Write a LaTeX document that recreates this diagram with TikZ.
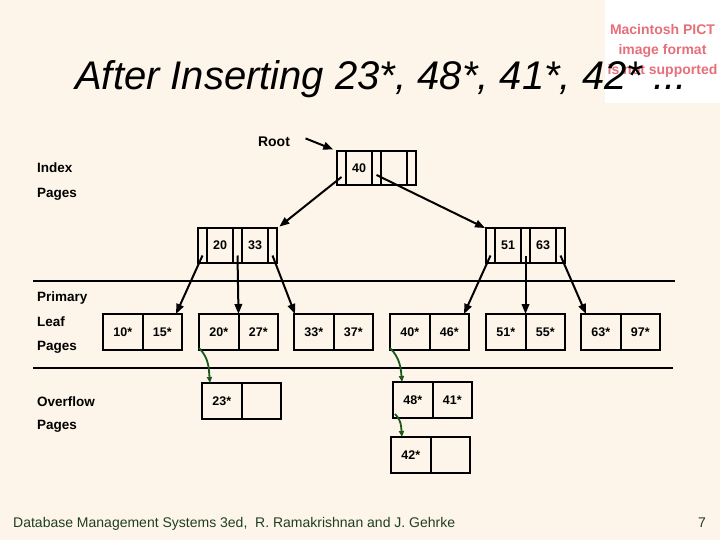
\documentclass[tikz,border=0pt]{standalone}
\usepackage{fontspec}
\setmainfont{Liberation Sans}
\usetikzlibrary{arrows.meta, positioning}

\definecolor{slidecream}{RGB}{253,245,233}
\definecolor{ovfgreen}{RGB}{28,88,28}
\definecolor{footgreen}{RGB}{32,62,32}
\definecolor{pictred}{RGB}{230,112,122}

\tikzset{
  ptrslot/.style={
    rectangle, draw=black, line width=2pt,
    minimum width=9, minimum height=34,
    inner sep=0pt, outer sep=0pt
  },
  keyslot/.style={
    rectangle, draw=black, line width=2pt,
    minimum width=26, minimum height=34,
    inner sep=0pt, outer sep=0pt,
    font=\fontsize{12.5}{13}\selectfont\bfseries
  },
  leafcell/.style={
    rectangle, draw=black, line width=2pt,
    minimum width=39.5, minimum height=36,
    inner sep=0pt, outer sep=0pt,
    font=\fontsize{12.5}{13}\selectfont\bfseries
  },
  sidelabel/.style={
    anchor=west, inner sep=0pt,
    font=\fontsize{13.5}{15}\selectfont\bfseries
  },
  treearrow/.style={-{Triangle[length=10pt,width=7.5pt]}, line width=2pt},
  ovfarrow/.style={-{Triangle[length=6pt,width=5pt]}, line width=1.8pt, draw=ovfgreen},
  sepline/.style={line width=2pt},
}

\begin{document}
\begin{tikzpicture}[x=1pt, y=-1pt]
    \useasboundingbox (0,0) rectangle (720,540);
    \fill[slidecream] (0,0) rectangle (720,540);

    % placeholder box top right
    \fill[white] (605,0) rectangle (720,103);
    \node[text=pictred, align=center, inner sep=0pt, font=\fontsize{14}{20}\selectfont\bfseries] (pict) at (662.5,51)
         {Macintosh PICT\\image format\\is not supported};

    \node[anchor=base west, inner sep=0pt, font=\fontsize{40}{44}\selectfont\itshape] (title) at (75,90)
         {After Inserting 23*, 48*, 41*, 42* ...};

    % left labels
    \node[sidelabel] (lblindex)  at (37,168) {Index};
    \node[sidelabel] (lblipages) at (37,194) {Pages};
    \node[sidelabel] (lblprim)   at (37,298) {Primary};
    \node[sidelabel] (lblleaf)   at (37,322) {Leaf};
    \node[sidelabel] (lbllpages) at (37,347) {Pages};
    \node[sidelabel] (lblovf)    at (37,402) {Overflow};
    \node[sidelabel] (lblopages) at (37,426) {Pages};

    \draw[sepline] (33,281) -- (675,281);
    \draw[sepline] (33,368) -- (673,368);

    % root
    \node[font=\fontsize{14}{15}\selectfont\bfseries] (rootlbl) at (274,142) {Root};
    \node[ptrslot] (r0) at (341.5,168) {};
    \node[keyslot, right=0pt of r0] (r1) {40};
    \node[ptrslot, right=0pt of r1] (r2) {};
    \node[keyslot, right=0pt of r2] (r3) {};
    \node[ptrslot, right=0pt of r3] (r4) {};

    % index pages
    \node[ptrslot] (iL0) at (202.5,245.5) {};
    \node[keyslot, right=0pt of iL0] (iL1) {20};
    \node[ptrslot, right=0pt of iL1] (iL2) {};
    \node[keyslot, right=0pt of iL2] (iL3) {33};
    \node[ptrslot, right=0pt of iL3] (iL4) {};

    \node[ptrslot] (iR0) at (490.5,245.5) {};
    \node[keyslot, right=0pt of iR0] (iR1) {51};
    \node[ptrslot, right=0pt of iR1] (iR2) {};
    \node[keyslot, right=0pt of iR2] (iR3) {63};
    \node[ptrslot, right=0pt of iR3] (iR4) {};

    % leaf pages
    \node[leafcell] (l1a) at (122.75,332) {10*};
    \node[leafcell, right=0pt of l1a] (l1b) {15*};
    \node[leafcell] (l2a) at (218.75,332) {20*};
    \node[leafcell, right=0pt of l2a] (l2b) {27*};
    \node[leafcell] (l3a) at (313.75,332) {33*};
    \node[leafcell, right=0pt of l3a] (l3b) {37*};
    \node[leafcell] (l4a) at (409.75,332) {40*};
    \node[leafcell, right=0pt of l4a] (l4b) {46*};
    \node[leafcell] (l5a) at (505.75,332) {51*};
    \node[leafcell, right=0pt of l5a] (l5b) {55*};
    \node[leafcell] (l6a) at (600.75,332) {63*};
    \node[leafcell, right=0pt of l6a] (l6b) {97*};

    % overflow pages
    \node[leafcell] (o1a) at (221.75,401) {23*};
    \node[leafcell, right=0pt of o1a] (o1b) {};
    \node[leafcell] (o2a) at (412.75,400) {48*};
    \node[leafcell, right=0pt of o2a] (o2b) {41*};
    \node[leafcell] (o3a) at (410.75,455) {42*};
    \node[leafcell, right=0pt of o3a] (o3b) {};

    \draw[treearrow, shorten <=13pt, shorten >=4pt] (rootlbl.north east) -- (r0.north west);
    \draw[treearrow, shorten >=3pt] ([yshift=8pt]r0.south) -- (iL4.north east);
    \draw[treearrow, shorten >=1pt] ([yshift=10pt]r2.south) -- (iR0.north west);

    \foreach \a/\b/\dx in {iL0/l1b.north east/-6, iL2/l2a.north east/0, iL4/l3a.north west/1,
                           iR0/l4b.north east/-5, iR2/l5a.north east/0, iR4/l6a.north west/5}
      \draw[treearrow] ([yshift=7pt]\a.south) -- ([xshift=\dx pt]\b);

    \draw[ovfarrow] ([yshift=2pt]l2a.south west) to[out=-45,in=95] ([xshift=8pt]o1a.north west);
    \draw[ovfarrow] ([yshift=2pt]l4a.south west) to[out=-45,in=95] ([xshift=9pt]o2a.north west);
    \draw[ovfarrow] ([xshift=2pt,yshift=4pt]o2a.south west) to[out=-45,in=95] ([xshift=11pt]o3a.north west);

    \node[anchor=base west, inner sep=0pt, text=footgreen, font=\fontsize{14}{16}\selectfont] (foot) at (13,527)
         {Database Management Systems 3ed,\ \ R. Ramakrishnan and J. Gehrke};
    \node[anchor=base west, inner sep=0pt, text=footgreen, font=\fontsize{14}{16}\selectfont] (pagenum) at (698,527) {7};
\end{tikzpicture}
\end{document}
